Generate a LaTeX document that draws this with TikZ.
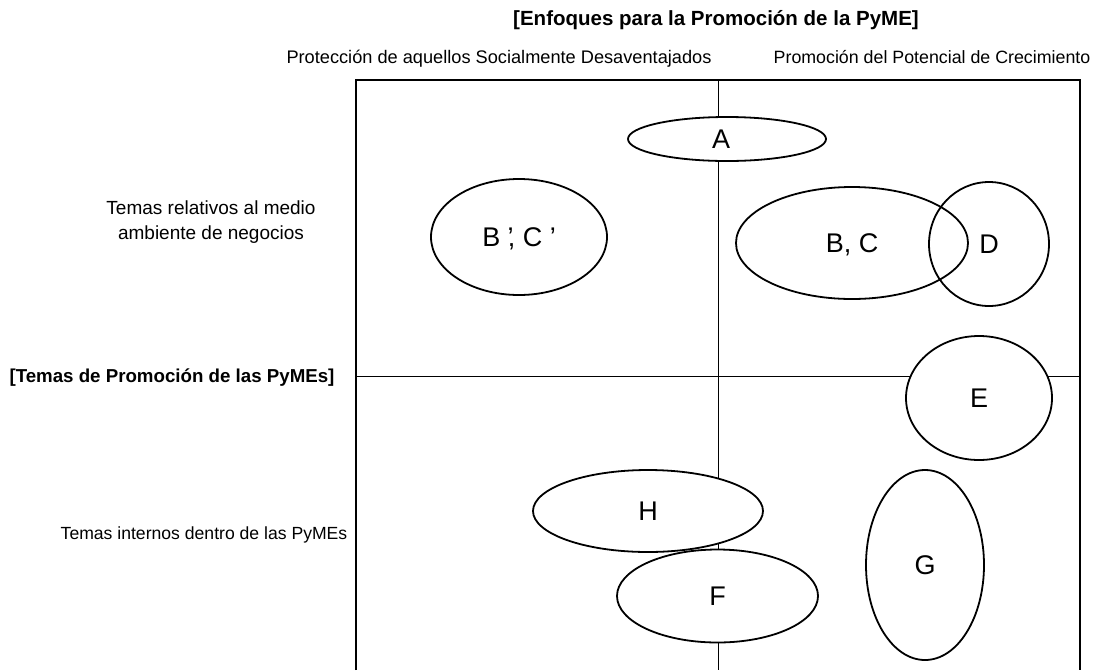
\documentclass[tikz,border=0pt]{standalone}
\usepackage{fontspec}
\setmainfont{Liberation Sans}
\usepackage{tikz}
\usetikzlibrary{shapes.geometric}

\tikzset{
  blob/.style={ellipse, draw, line width=1.8pt, fill=white, inner sep=0pt,
    text depth=0pt, font=\fontsize{27}{27}\selectfont},
  lbl/.style={anchor=base, inner sep=0pt, font=\fontsize{18}{25}\selectfont},
  boldlbl/.style={anchor=base, inner sep=0pt, font=\bfseries\fontsize{18.7}{25}\selectfont}
}

\begin{document}
\begin{tikzpicture}[x=1pt, y=-1pt]
      \useasboundingbox (0,0) rectangle (1097,670);
      \coordinate (bl) at (356,670);
      \coordinate (tl) at (356,80);
      \coordinate (tr) at (1080,80);
      \coordinate (br) at (1080,670);
      \coordinate (mt) at (718,80);
      \coordinate (mb) at (718,670);
      \coordinate (ml) at (356,376);
      \coordinate (mr) at (1080,376);
      \draw [line width=2pt] (bl) -- (tl) -- (tr) -- (br);
      \draw [line width=1pt] (mt) -- (mb);
      \draw [line width=1pt] (ml) -- (mr);

      \node [boldlbl, font=\bfseries\fontsize{20.5}{25}\selectfont] (title) at (716,25) {[Enfoques para la Promoción de la PyME]};
      \node [lbl, font=\fontsize{18.2}{25}\selectfont] (prot) at (499,63) {Protección de aquellos Socialmente Desaventajados};
      \node [lbl, font=\fontsize{17.8}{25}\selectfont] (crec) at (932,63) {Promoción del Potencial de Crecimiento};
      \node [lbl, align=center, font=\fontsize{19}{25}\selectfont] (medio) at (211,239) {Temas relativos al medio\\ambiente de negocios};
      \node [boldlbl] (temas) at (172,382) {[Temas de Promoción de las PyMEs]};
      \node [lbl, font=\fontsize{17.6}{25}\selectfont] (intern) at (204,539) {Temas internos dentro de las PyMEs};

      \node [blob, minimum width=198pt, minimum height=44pt] (A) at (727,139) {\kern-12pt A};
      \node [blob, minimum width=176pt, minimum height=116pt] (BCp) at (519,237) {B ’\kern-6pt, C ’};
      \node [blob, fill=none, minimum width=232pt, minimum height=112pt] (BC) at (852,243) {B, C};
      \node [blob, fill=none, minimum width=120pt, minimum height=124pt] (D) at (989,244) {D};
      \node [blob, minimum width=146pt, minimum height=124pt] (E) at (979,398) {E};
      \node [blob, draw=none, minimum width=230pt, minimum height=82pt] (H) at (648,511) {H};
      \node [blob, minimum width=201pt, minimum height=93pt] (F) at (717.5,596) {F};
      \draw [line width=1.8pt] (H.center) ellipse [x radius=115pt, y radius=41pt];
      \node [blob, minimum width=118pt, minimum height=190pt] (G) at (925,565) {G};
    \end{tikzpicture}
\end{document}
